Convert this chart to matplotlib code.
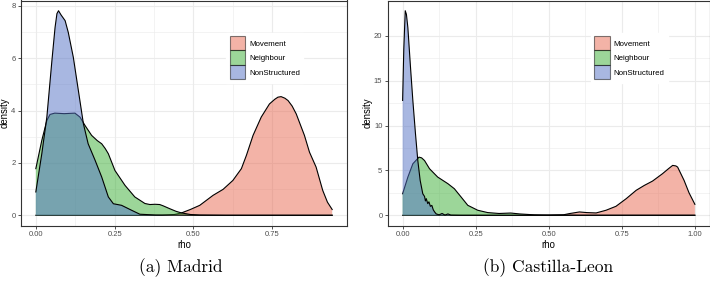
import matplotlib
matplotlib.use("Agg")
import matplotlib.pyplot as plt
from matplotlib.patches import Patch

plt.rcParams['font.family'] = ['Liberation Sans', 'DejaVu Sans']

groups = ["Movement", "Neighbour", "NonStructured"]
fills = ["#E96951", "#3BAF35", "#5371C5"]

# Madrid densities
mad_ns_x = [0.0, 0.019, 0.035, 0.051, 0.061, 0.067, 0.072, 0.08, 0.093, 0.103, 0.119, 0.135,
            0.151, 0.166, 0.188, 0.209, 0.23, 0.246, 0.272, 0.304, 0.33, 0.38, 0.5, 0.94]
mad_ns_y = [0.89, 2.35, 3.75, 5.9, 7.17, 7.7, 7.81, 7.65, 7.43, 6.98, 6.03, 4.76,
            3.49, 2.73, 2.1, 1.46, 0.7, 0.44, 0.38, 0.19, 0.04, 0.01, 0.0, 0.0]
mad_nb_x = [0.0, 0.019, 0.035, 0.045, 0.06, 0.09, 0.124, 0.14, 0.156, 0.177, 0.195, 0.209,
            0.22, 0.23, 0.251, 0.283, 0.314, 0.346, 0.362, 0.378, 0.393, 0.404, 0.425, 0.445,
            0.462, 0.49, 0.52, 0.6, 0.94]
mad_nb_y = [1.78, 2.86, 3.62, 3.85, 3.9, 3.88, 3.9, 3.75, 3.43, 3.05, 2.85, 2.73,
            2.55, 2.35, 1.71, 1.14, 0.7, 0.45, 0.41, 0.42, 0.41, 0.36, 0.25, 0.15,
            0.09, 0.03, 0.01, 0.0, 0.0]
mad_mv_x = [0.0, 0.4, 0.44, 0.462, 0.49, 0.52, 0.562, 0.594, 0.625, 0.652, 0.668, 0.689,
            0.715, 0.741, 0.758, 0.768, 0.778, 0.79, 0.8, 0.813, 0.826, 0.852, 0.868, 0.889,
            0.91, 0.925, 0.94]
mad_mv_y = [0.0, 0.0, 0.03, 0.09, 0.22, 0.38, 0.76, 0.99, 1.33, 1.78, 2.29, 3.05,
            3.75, 4.25, 4.43, 4.51, 4.53, 4.47, 4.38, 4.17, 3.87, 3.05, 2.41, 1.84,
            0.95, 0.5, 0.22]

# Castilla-Leon densities
cyl_ns_x = [0.0, 0.004, 0.009, 0.013, 0.018, 0.027, 0.035, 0.044, 0.052, 0.06, 0.069, 0.075,
            0.078, 0.081, 0.086, 0.09, 0.095, 0.1, 0.105, 0.11, 0.115, 0.125, 0.135, 0.145,
            0.155, 0.165, 0.2, 1.0]
cyl_ns_y = [12.8, 18.5, 22.8, 22.4, 20.9, 16.5, 12.8, 9.1, 6.1, 3.9, 2.4, 2.1,
            1.6, 1.85, 1.3, 1.5, 1.0, 1.1, 0.6, 0.35, 0.15, 0.05, 0.2, 0.02,
            0.15, 0.02, 0.0, 0.0]
cyl_nb_x = [0.0, 0.018, 0.035, 0.056, 0.065, 0.075, 0.092, 0.12, 0.155, 0.177, 0.2, 0.223,
            0.257, 0.291, 0.33, 0.37, 0.4, 0.45, 0.5, 0.55, 0.6, 1.0]
cyl_nb_y = [2.4, 4.26, 5.74, 6.48, 6.4, 6.1, 5.19, 4.26, 3.52, 2.96, 2.04, 1.11,
            0.56, 0.3, 0.2, 0.25, 0.15, 0.05, 0.0, 0.02, 0.0, 0.0]
cyl_mv_x = [0.0, 0.45, 0.55, 0.571, 0.605, 0.63, 0.662, 0.696, 0.73, 0.765, 0.799, 0.827,
            0.855, 0.889, 0.91, 0.924, 0.935, 0.941, 0.963, 0.98, 1.0]
cyl_mv_y = [0.0, 0.0, 0.05, 0.19, 0.37, 0.3, 0.26, 0.56, 1.0, 1.85, 2.78, 3.33,
            3.81, 4.63, 5.2, 5.56, 5.5, 5.37, 3.89, 2.5, 1.22]

panels = [
    dict(rect=[21/710, 1-225.5/285, 326/710, 225/285],
         series=[(mad_mv_x, mad_mv_y), (mad_nb_x, mad_nb_y), (mad_ns_x, mad_ns_y)],
         xticks=[0, 0.25, 0.5, 0.75], yticks=[0, 2, 4, 6, 8],
         caption="(a) Madrid", cap_x=181/710),
    dict(rect=[388/710, 1-225.5/285, 321.5/710, 225/285],
         series=[(cyl_mv_x, cyl_mv_y), (cyl_nb_x, cyl_nb_y), (cyl_ns_x, cyl_ns_y)],
         xticks=[0, 0.25, 0.5, 0.75, 1.0], yticks=[0, 5, 10, 15, 20],
         caption="(b) Castilla-Leon", cap_x=548/710),
]

fig = plt.figure(figsize=(7.1, 2.85), dpi=100)

for p in panels:
    ax = fig.add_axes(p['rect'])
    xmax = max(max(s[0]) for s in p['series'])
    ymax = max(max(s[1]) for s in p['series'])
    ax.set_xlim(-0.05 * xmax, 1.05 * xmax)
    ax.set_ylim(-0.05 * ymax, 1.05 * ymax)
    for k, (xs, ys) in enumerate(p['series']):
        ax.fill_between(xs, 0, ys, facecolor=fills[k], alpha=0.5, linewidth=0, zorder=3 + k)
        ax.plot(xs, ys, color='black', lw=0.8, zorder=3 + k)
    ax.set_xticks(p['xticks'])
    ax.set_xticklabels([f"{t:.2f}" for t in p['xticks']])
    ax.set_yticks(p['yticks'])
    yt = p['yticks']
    ax.set_yticks([(a + b) / 2 for a, b in zip(yt[:-1], yt[1:])], minor=True)
    xt = p['xticks']
    ax.set_xticks([(a + b) / 2 for a, b in zip(xt[:-1], xt[1:])], minor=True)
    ax.grid(which='major', color='#EBEBEB', lw=0.8, zorder=0)
    ax.grid(which='minor', color='#EBEBEB', lw=0.4, zorder=0)
    ax.set_axisbelow(True)
    for s in ax.spines.values():
        s.set_color('#333333')
        s.set_linewidth(0.8)
    ax.tick_params(which='major', length=2.5, width=0.6, color='#333333',
                   labelsize=5.5, labelcolor='#4D4D4D', pad=1.5)
    ax.tick_params(which='minor', length=0)
    ax.set_xlabel("rho", fontsize=6.9, labelpad=1.5)
    ax.set_ylabel("density", fontsize=6.9, labelpad=1)

    handles = [Patch(facecolor=fills[k], alpha=0.5, edgecolor='black', lw=0.8) for k in range(3)]
    leg = ax.legend(handles, groups, loc='upper left', bbox_to_anchor=(0.63, 0.857),
                    fontsize=5.7, frameon=True, fancybox=False, borderpad=0.4,
                    handlelength=2.0, handleheight=2.45, labelspacing=0, handletextpad=0.5,
                    borderaxespad=0)
    leg.get_frame().set_facecolor('white')
    leg.get_frame().set_edgecolor('white')
    leg.get_frame().set_alpha(1)
    for h in leg.legend_handles:
        h.set_edgecolor('black')

    fig.text(p['cap_x'], 1 - 268/285, p['caption'], family='cmr10', fontsize=12.5,
             ha='center', va='center')

fig.savefig("out.png", dpi=100)
